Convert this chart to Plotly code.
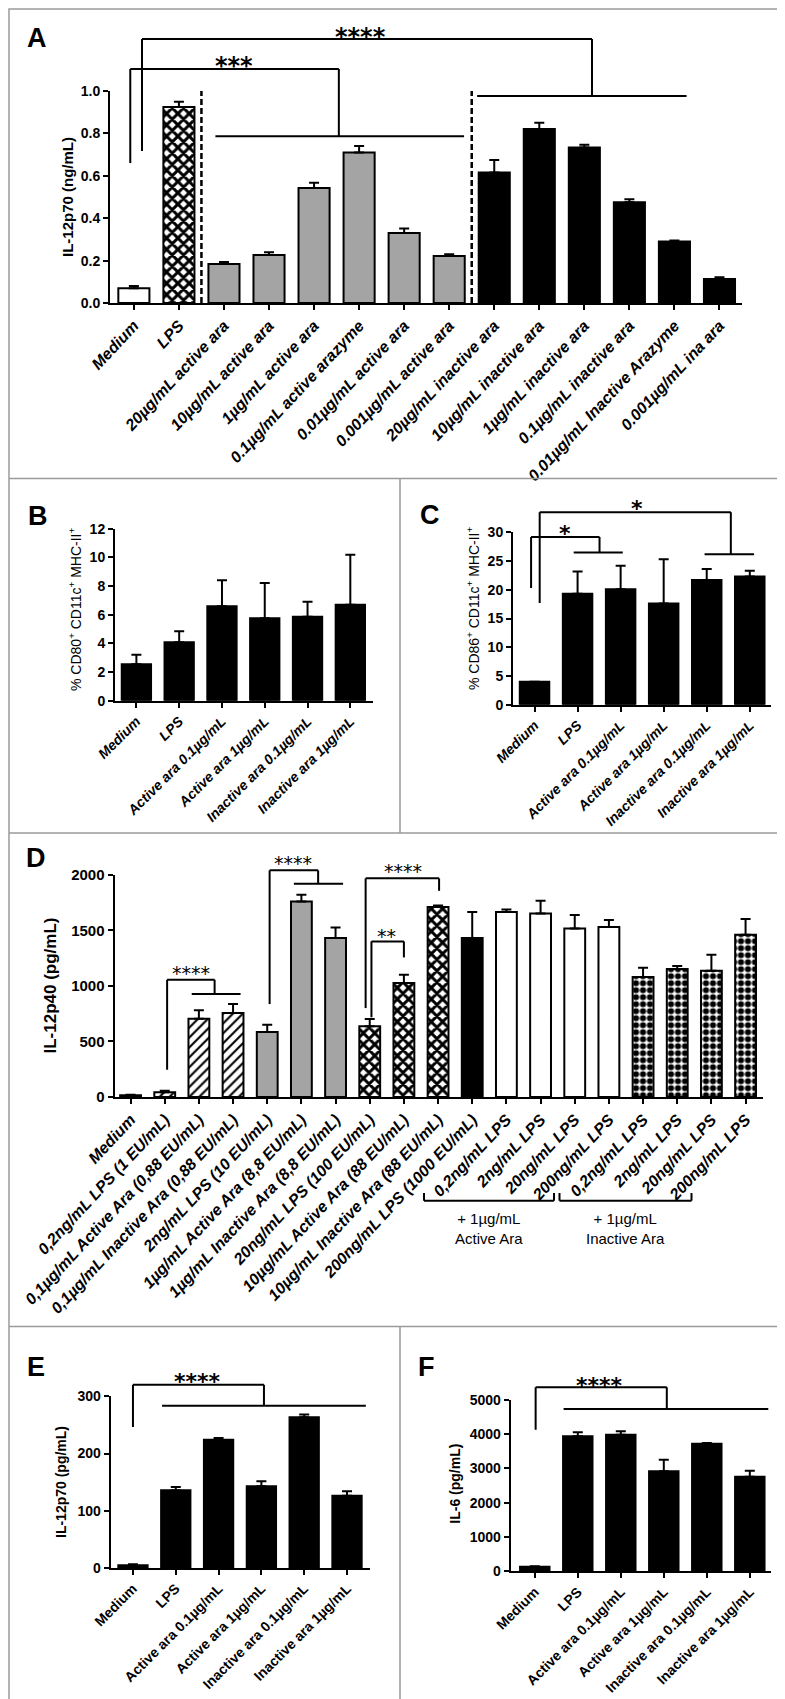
import plotly.graph_objects as go

W, H = 785, 1699
FONT = "Liberation Sans, Arial, Helvetica, sans-serif"
STAR = "DejaVu Sans, sans-serif"

# ---------------- data ----------------
A_categories = ["Medium", "LPS", "20µg/mL active ara", "10µg/mL active ara", "1µg/mL active ara",
                "0.1µg/mL active arazyme", "0.01µg/mL active ara", "0.001µg/mL active ara",
                "20µg/mL inactive ara", "10µg/mL inactive ara", "1µg/mL inactive ara",
                "0.1µg/mL inactive ara", "0.01µg/mL Inactive Arazyme", "0.001µg/mL ina ara"]
A_values = [0.070, 0.925, 0.184, 0.226, 0.542, 0.710, 0.330, 0.222, 0.615, 0.821, 0.734, 0.475, 0.290, 0.113]
A_errors = [0.010, 0.024, 0.009, 0.013, 0.025, 0.031, 0.022, 0.008, 0.059, 0.029, 0.013, 0.014, 0.005, 0.008]
A_styles = ["white", "cross"] + ["gray"] * 6 + ["black"] * 6
A_yticks = [0.0, 0.2, 0.4, 0.6, 0.8, 1.0]

BC_categories = ["Medium", "LPS", "Active ara 0.1µg/mL", "Active ara 1µg/mL",
                 "Inactive ara 0.1µg/mL", "Inactive ara 1µg/mL"]
B_values = [2.55, 4.07, 6.59, 5.75, 5.86, 6.70]
B_errors = [0.66, 0.77, 1.81, 2.46, 1.05, 3.49]
B_yticks = [0, 2, 4, 6, 8, 10, 12]

C_values = [4.0, 19.3, 20.1, 17.6, 21.7, 22.3]
C_errors = [0.0, 3.9, 4.1, 7.7, 1.9, 1.0]
C_yticks = [0, 5, 10, 15, 20, 25, 30]

D_categories = ["Medium", "0,2ng/mL LPS (1 EU/mL)", "0,1µg/mL Active Ara (0,88 EU/mL)",
                "0,1µg/mL Inactive Ara (0,88 EU/mL)", "2ng/mL LPS (10 EU/mL)",
                "1µg/mL Active Ara (8,8 EU/mL)", "1µg/mL Inactive Ara (8,8 EU/mL)",
                "20ng/mL LPS (100 EU/mL)", "10µg/mL Active Ara (88 EU/mL)",
                "10µg/mL Inactive Ara (88 EU/mL)", "200ng/mL LPS (1000 EU/mL)",
                "0,2ng/mL LPS", "2ng/mL LPS", "20ng/mL LPS", "200ng/mL LPS",
                "0,2ng/mL LPS", "2ng/mL LPS", "20ng/mL LPS", "200ng/mL LPS"]
D_values = [15, 42, 704, 755, 585, 1760, 1430, 636, 1025, 1709, 1430,
            1664, 1652, 1517, 1529, 1079, 1151, 1136, 1460]
D_errors = [5, 15, 76, 81, 65, 59, 96, 65, 75, 15, 234,
            24, 113, 120, 63, 84, 27, 144, 141]
D_styles = ["white", "hatch", "hatch", "hatch", "gray", "gray", "gray", "cross", "cross", "cross",
            "black", "white", "white", "white", "white", "checker", "checker", "checker", "checker"]
D_yticks = [0, 500, 1000, 1500, 2000]
D_groups = ["+ 1µg/mL<br>Active Ara", "+ 1µg/mL<br>Inactive Ara"]

EF_categories = BC_categories
E_values = [5, 135.8, 224.3, 142.8, 263.3, 126.4]
E_errors = [1.5, 5.8, 2.7, 8.7, 4.7, 7.6]
E_yticks = [0, 100, 200, 300]

F_values = [130, 3932, 3980, 2913, 3717, 2756]
F_errors = [15, 117, 98, 338, 23, 174]
F_yticks = [0, 1000, 2000, 3000, 4000, 5000]

# ---------------- styles ----------------
STYLE = {
    "white":   dict(color="white"),
    "gray":    dict(color="#a4a4a4"),
    "black":   dict(color="black"),
    "cross":   dict(color="white", pattern=dict(shape="x", size=8, solidity=0.6)),
    "hatch":   dict(color="white", pattern=dict(shape="/", size=7, solidity=0.3)),
    "checker": dict(color="white", pattern=dict(shape=".", size=7, solidity=0.6)),
}


def px_x(x):
    return x / W


def px_y(y):
    return 1 - y / H


fig = go.Figure()
layout = dict(width=W, height=H, margin=dict(l=0, r=0, t=0, b=0), autosize=False,
              paper_bgcolor="white", plot_bgcolor="white", showlegend=False,
              barmode="overlay",
              font=dict(family=FONT, color="black"))
shapes = []
annotations = []


def add_panel(n, cats, vals, errs, styles, bar_w, xpx, ypx, xrange, ymax, yticks,
              xfont, yfont, ytickformat=None, use_index=False, angle=-45):
    sfx = "" if n == 1 else str(n)
    xs = list(range(len(cats))) if use_index else list(cats)
    order = []
    for s in styles:
        if s not in order:
            order.append(s)
    for s in order:
        idx = [i for i, v in enumerate(styles) if v == s]
        sty = STYLE[s]
        marker = dict(color=sty["color"], line=dict(color="black", width=2))
        if "pattern" in sty:
            p = dict(sty["pattern"])
            p.update(fgcolor="black", bgcolor="white", fillmode="replace")
            marker["pattern"] = p
        fig.add_trace(go.Bar(
            x=[xs[i] for i in idx], y=[vals[i] for i in idx], width=bar_w,
            xaxis="x" + sfx, yaxis="y" + sfx, marker=marker,
            error_y=dict(type="data", symmetric=False, array=[errs[i] for i in idx],
                         arrayminus=[0] * len(idx), color="black", thickness=2, width=5),
            hoverinfo="skip",
        ))
    xa = dict(domain=[px_x(xpx[0]), px_x(xpx[1])], range=xrange, anchor="y" + sfx,
              showline=True, linecolor="black", linewidth=2, ticks="outside", ticklen=5,
              tickwidth=2, tickcolor="black", tickangle=angle, tickfont=xfont,
              showgrid=False, zeroline=False, automargin=False, fixedrange=True)
    if use_index:
        xa.update(tickmode="array", tickvals=xs, ticktext=cats)
    else:
        xa.update(type="category", categoryorder="array", categoryarray=list(cats))
    ya = dict(domain=[px_y(ypx[1]), px_y(ypx[0])], range=[0, ymax], anchor="x" + sfx,
              showline=True, linecolor="black", linewidth=2, ticks="outside", ticklen=5,
              tickwidth=2, tickcolor="black", tickmode="array", tickvals=yticks,
              tickfont=yfont, showgrid=False, zeroline=False, automargin=False, fixedrange=True)
    if ytickformat:
        ya["tickformat"] = ytickformat
    layout["xaxis" + sfx] = xa
    layout["yaxis" + sfx] = ya


def seg(n, x0, y0, x1, y1, ymax, width=2):
    sfx = "" if n == 1 else str(n)
    return dict(type="line", xref="x" + sfx, yref="y" + sfx + " domain",
                x0=x0, x1=x1, y0=y0 / ymax, y1=y1 / ymax,
                line=dict(color="black", width=width))


def bracket(n, ymax, xl, ylb, ytop, xr, yrb, hline=None, text="", tx=0, ty=0, tsize=22, bold=True):
    sfx = "" if n == 1 else str(n)
    shapes.append(seg(n, xl, ylb, xl, ytop, ymax))
    shapes.append(seg(n, xl, ytop, xr, ytop, ymax))
    shapes.append(seg(n, xr, ytop, xr, yrb, ymax))
    if hline:
        shapes.append(seg(n, hline[0], yrb, hline[1], yrb, ymax))
    annotations.append(dict(text=text, xref="x" + sfx, yref="y" + sfx + " domain",
                            x=tx, y=ty / ymax, xanchor="center", yanchor="middle",
                            yshift=-0.24 * tsize, showarrow=False,
                            font=dict(family=STAR, size=tsize, color="black",
                                      weight="bold" if bold else "normal")))


def ytitle(text, x, y, size, bold=True):
    annotations.append(dict(text=text, xref="paper", yref="paper", x=px_x(x), y=px_y(y),
                            xanchor="center", yanchor="middle", textangle=-90, showarrow=False,
                            font=dict(family=FONT, size=size, color="black",
                                      weight="bold" if bold else "normal")))


def letter(text, x, y, size=27):
    annotations.append(dict(text=text, xref="paper", yref="paper", x=px_x(x), y=px_y(y),
                            xanchor="center", yanchor="middle", showarrow=False,
                            font=dict(family=FONT, size=size, color="black", weight="bold")))


def tf(size, bold=True, italic=False):
    return dict(family=FONT, size=size, color="black",
                weight="bold" if bold else "normal", style="italic" if italic else "normal")


# ---------------- panel A ----------------
add_panel(1, A_categories, A_values, A_errors, A_styles, 0.69, (102, 734), (83, 295),
          [-0.53, 13.5], 1.0, A_yticks, tf(16, True, True), tf(14), ytickformat=".1f", angle=-47)
for xd in (1.5, 7.5):
    shapes.append(dict(type="line", xref="x", yref="y", x0=xd, x1=xd, y0=0, y1=1.0,
                       line=dict(color="black", width=2.5, dash="6px,3px")))
bracket(1, 1.0, -0.08, 0.660, 1.104, 4.55, 0.786, (1.81, 7.33), "***", 2.22, 1.146, 24)
bracket(1, 1.0, 0.18, 0.717, 1.245, 10.17, 0.976, (7.62, 12.27), "****", 5.02, 1.284, 24)
ytitle("IL-12p70 (ng/mL)", 59, 189, 15)
letter("A", 29, 30)

# ---------------- panel B ----------------
add_panel(2, BC_categories, B_values, B_errors, ["black"] * 6, 0.685, (107, 365), (520.7, 692.7),
          [-0.5, 5.53], 12, B_yticks, tf(14, True, True), tf(14))
ytitle("% CD80<sup>+</sup> CD11c<sup>+</sup> MHC-II<sup>+</sup>", 67, 602, 14, bold=False)
letter("B", 29.5, 508)

# ---------------- panel C ----------------
add_panel(3, BC_categories, C_values, C_errors, ["black"] * 6, 0.685, (505, 763.3), (524.3, 696.7),
          [-0.5, 5.5], 30, C_yticks, tf(14, True, True), tf(14))
bracket(3, 30, -0.08, 20.3, 29.18, 1.51, 26.5, (0.91, 2.05), "*", 0.70, 30.7, 22)
bracket(3, 30, 0.12, 17.7, 33.5, 4.56, 26.2, (3.95, 5.10), "*", 2.39, 35.1, 22)
ytitle("% CD86<sup>+</sup> CD11c<sup>+</sup> MHC-II<sup>+</sup>", 465, 601, 14, bold=False)
letter("C", 422, 507)

# ---------------- panel D ----------------
add_panel(4, D_categories, D_values, D_errors, D_styles, 0.61, (106.5, 755), (866.7, 1089),
          [-0.47, 18.51], 2000, D_yticks, tf(16, True, True), tf(15), use_index=True, angle=-47)
bracket(4, 2000, 1.07, 245, 1055, 2.46, 926, (1.79, 3.22), "****", 1.77, 1160, 19, bold=False)
bracket(4, 2000, 4.07, 836, 2039, 5.49, 1918, (4.78, 6.22), "****", 4.76, 2149, 19, bold=False)
bracket(4, 2000, 6.88, 800, 1967, 9.03, 1855, None, "****", 7.97, 2075, 19, bold=False)
bracket(4, 2000, 7.05, 717, 1400, 8.00, 1256, None, "**", 7.49, 1490, 19, bold=False)
for (gx0, gx1), label in zip([(416, 546), (551.5, 683.5)], D_groups):
    for seg_pts in [((gx0, 1185), (gx0, 1192.7)), ((gx0, 1192.7), (gx1, 1192.7)),
                    ((gx1, 1192.7), (gx1, 1185))]:
        shapes.append(dict(type="line", xref="paper", yref="paper",
                           x0=px_x(seg_pts[0][0]), y0=px_y(seg_pts[0][1]),
                           x1=px_x(seg_pts[1][0]), y1=px_y(seg_pts[1][1]),
                           line=dict(color="black", width=2)))
    annotations.append(dict(text=label, xref="paper", yref="paper", x=px_x((gx0 + gx1) / 2),
                            y=px_y(1220.5), xanchor="center", yanchor="middle", showarrow=False,
                            font=dict(family=FONT, size=15, color="black")))
ytitle("IL-12p40 (pg/mL)", 42.5, 978, 17)
letter("D", 28, 850)

# ---------------- panel E ----------------
add_panel(5, EF_categories, E_values, E_errors, ["black"] * 6, 0.685, (102.7, 361.7), (1388.3, 1560),
          [-0.52, 5.53], 300, E_yticks, tf(14), tf(14))
bracket(5, 300, 0.0, 246.4, 320.3, 3.06, 283.6, (0.68, 5.44), "****", 1.50, 335, 22)
ytitle("IL-12p70 (pg/mL)", 53, 1474, 14)
letter("E", 28, 1359)

# ---------------- panel F ----------------
add_panel(6, EF_categories, F_values, F_errors, ["black"] * 6, 0.685, (502.7, 763.3), (1391.7, 1563.3),
          [-0.56, 5.5], 5000, F_yticks, tf(14), tf(14))
bracket(6, 5000, 0.02, 4125, 5360, 3.07, 4728, (0.67, 5.43), "****", 1.51, 5581, 22)
ytitle("IL-6 (pg/mL)", 446.7, 1476, 14)
letter("F", 418, 1359)

# ---------------- panel borders ----------------
BORDER = dict(color="#9a9a9a", width=1.5)
shapes.append(dict(type="rect", xref="paper", yref="paper", x0=px_x(1), x1=px_x(784),
                   y0=px_y(1697), y1=px_y(1), line=BORDER))
for yb in (470.5, 825, 1318.5):
    shapes.append(dict(type="line", xref="paper", yref="paper", x0=px_x(1), x1=px_x(784),
                       y0=px_y(yb), y1=px_y(yb), line=BORDER))
for (y0, y1) in ((470.5, 825), (1318.5, 1697)):
    shapes.append(dict(type="line", xref="paper", yref="paper", x0=px_x(392), x1=px_x(392),
                       y0=px_y(y0), y1=px_y(y1), line=BORDER))

layout["shapes"] = shapes
layout["annotations"] = annotations
fig.update_layout(**layout)
fig.write_html("out.html")
